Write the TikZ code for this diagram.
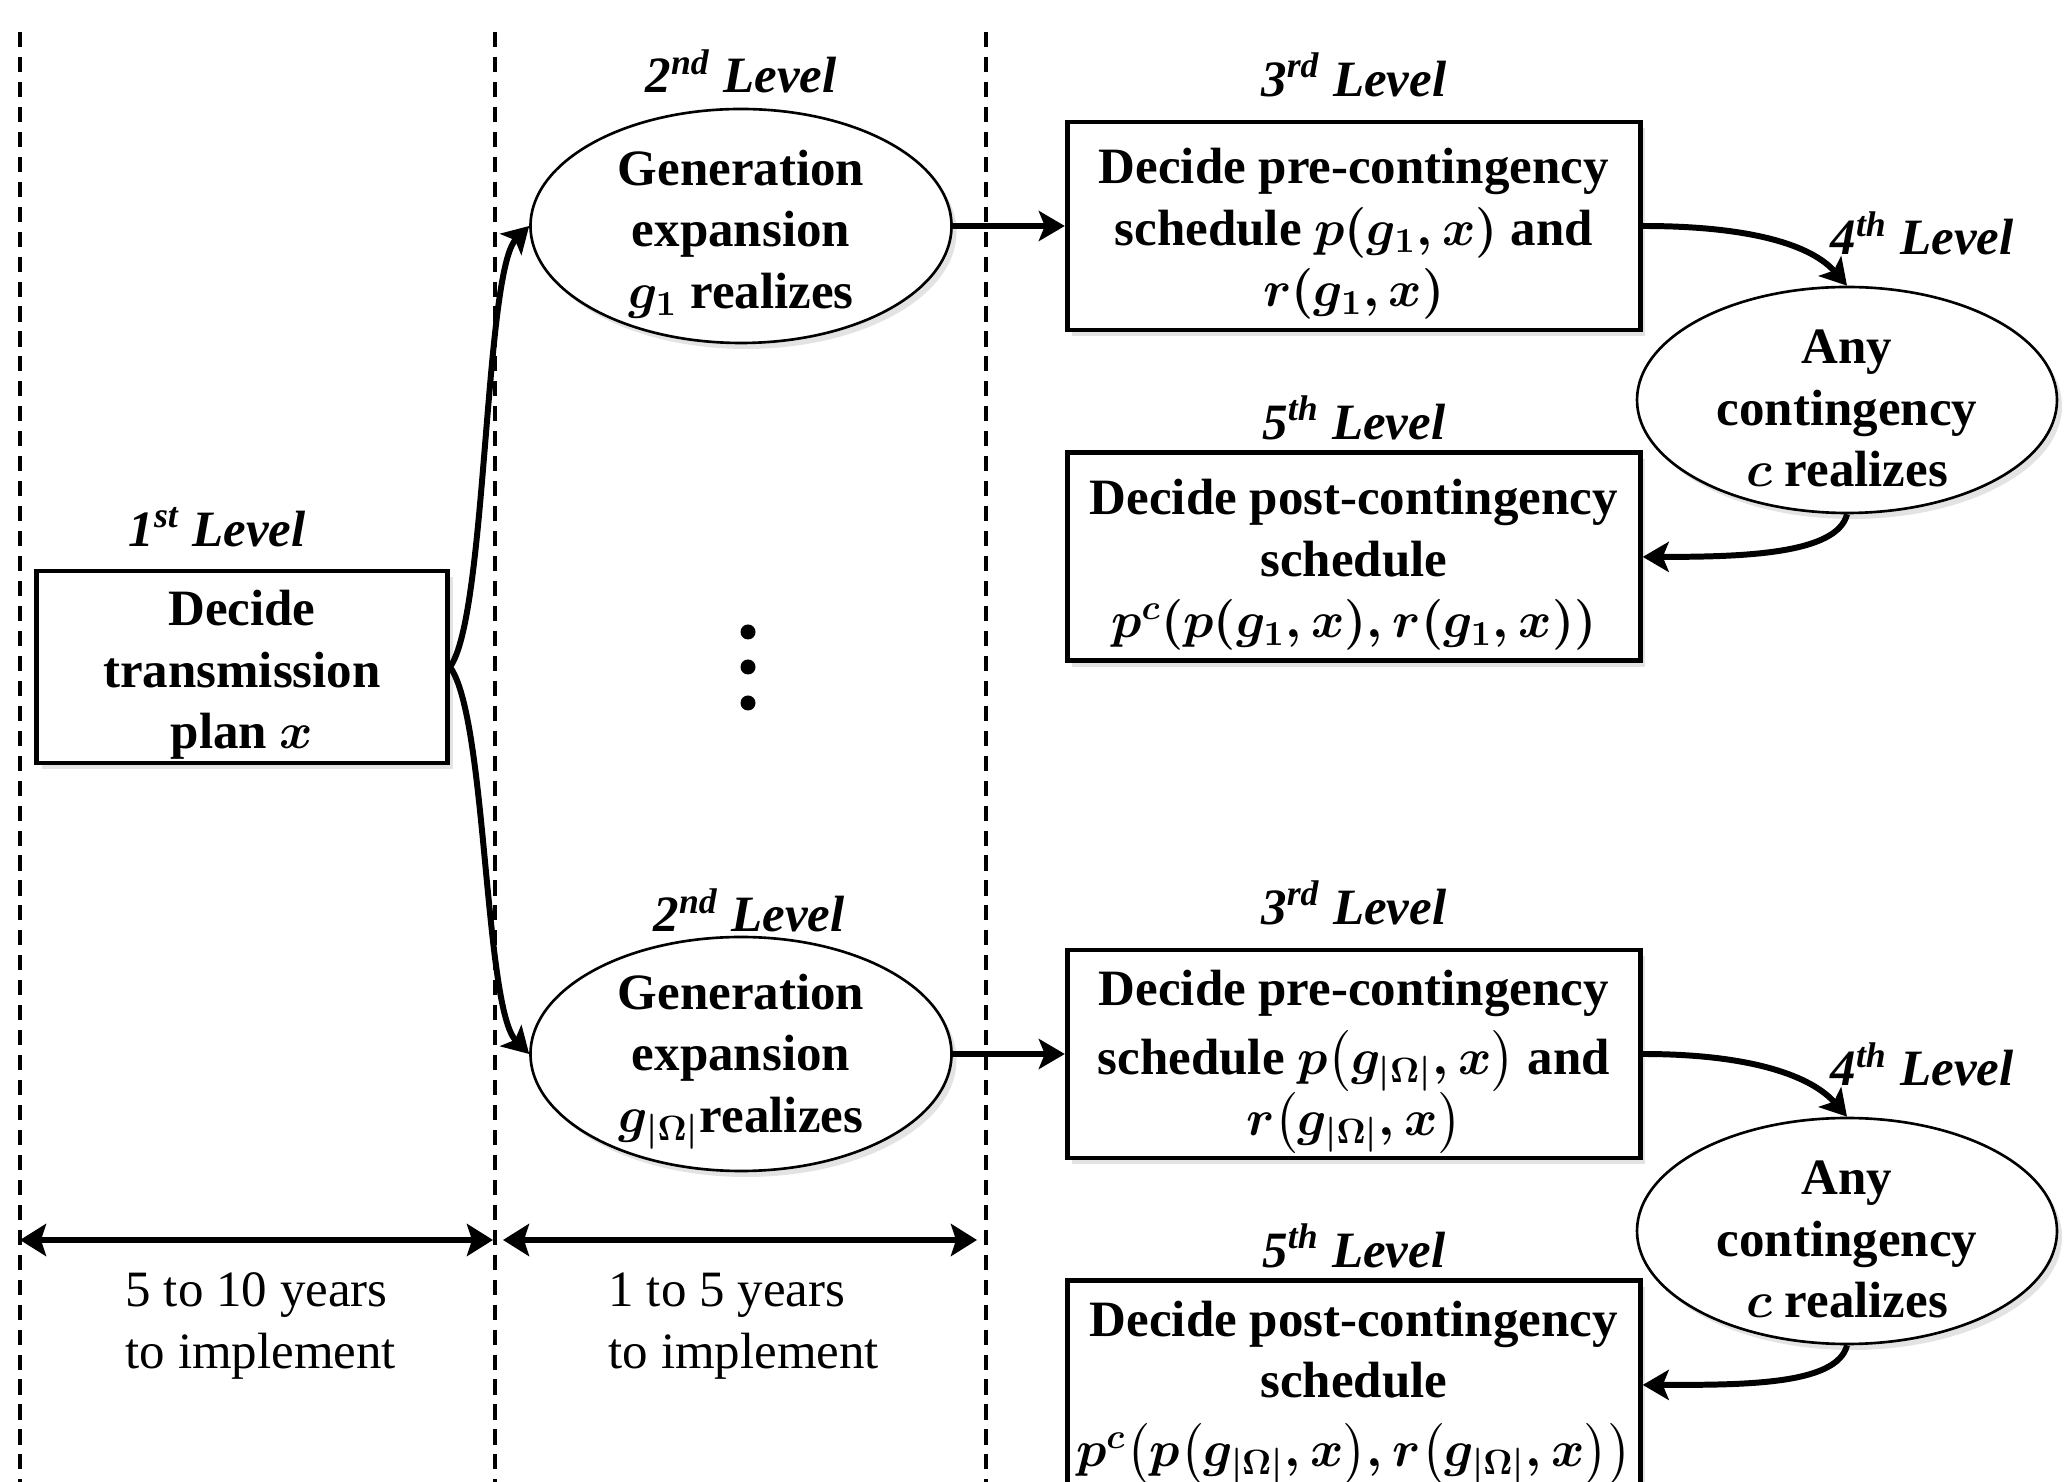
\documentclass[tikz,border=0pt]{standalone}
\usepackage[no-math]{fontspec}
\setmainfont{Liberation Serif}
\usepackage{amsmath,amssymb}
\usepackage{tikz}
\usetikzlibrary{arrows.meta,positioning,shapes.geometric,shadows}
\newcommand{\topgap}{\rule{0pt}{14.5pt}}

\begin{document}
\begin{tikzpicture}[
  font=\fontsize{14.5}{17.5}\selectfont,
  box/.style={draw, line width=1.4pt, align=center, fill=white, inner xsep=2pt, inner ysep=0pt,
    minimum width=5.73cm, minimum height=2.08cm,
    font=\fontsize{14.5}{17.5}\selectfont\bfseries\boldmath,
    drop shadow={opacity=0.22, shadow xshift=0.05cm, shadow yshift=-0.06cm}},
  oval/.style={ellipse, draw, line width=0.75pt, align=center, fill=white, inner xsep=0pt, inner ysep=-4pt,
    minimum width=4.21cm, minimum height=2.34cm,
    font=\fontsize{14.5}{17.5}\selectfont\bfseries\boldmath,
    drop shadow={opacity=0.22, shadow xshift=0.05cm, shadow yshift=-0.06cm}},
  lvl/.style={inner sep=0pt, font=\fontsize{14.5}{17.5}\selectfont\bfseries\itshape},
  arr/.style={-{Stealth[length=2.6mm,width=3mm,inset=0.6mm]}, line width=1.7pt},
  dim/.style={{Stealth[length=2.6mm,width=3.2mm,inset=0.5mm]}-{Stealth[length=2.6mm,width=3.2mm,inset=0.5mm]}, line width=1.7pt},
  sep/.style={line width=1.4pt, dash pattern=on 4.3pt off 2.8pt}
]
  \useasboundingbox (0,0) rectangle (20.64,-14.82);
  % time horizons
  \foreach \x in {0.20,4.95,9.86}
    \draw[sep] (\x,-0.32) -- (\x,-14.82);

  % 1st level
  \node[box, minimum width=4.11cm, minimum height=1.92cm] (plan) at (2.42,-6.67) {\topgap Decide\\transmission\\plan $x$};
  \node[lvl, above=0.21cm of plan, xshift=-0.25cm] (lvA) {1\textsuperscript{st} Level};

  % 2nd level
  \node[oval] (gen1) at (7.41,-2.26) {\topgap Generation\\expansion\\$g_1$ realizes};
  \node[oval] (genN) at (7.41,-10.54) {\topgap Generation\\expansion\\$g_{|\Omega|}$realizes};
  \node[lvl, above=0.14cm of gen1] (lvB1) {2\textsuperscript{nd} Level};
  \node[lvl, above=0.03cm of genN, xshift=0.08cm] (lvBN) {2\textsuperscript{nd} Level};
  \foreach \y in {-6.32,-6.67,-7.03}
    \fill (7.48,\y) circle (0.075);

  % 3rd to 5th level, first scenario
  \node[box, right=1.12cm of gen1] (pre1) {\topgap Decide pre-contingency\\schedule $p(g_1,x)$ and\\$r(g_1,x)$};
  \node[box, below=1.18cm of pre1] (post1) {\topgap Decide post-contingency\\schedule\\$p^c(p(g_1,x),r(g_1,x))$};
  \node[oval, minimum width=4.2cm, minimum height=2.26cm] (any1) at (18.47,-4.00) {\topgap Any\\contingency\\$c$ realizes};
  \node[lvl, above=0.22cm of pre1] (lvC1) {3\textsuperscript{rd} Level};
  \node[lvl, above=0.3cm of any1, xshift=0.75cm] (lvD1) {4\textsuperscript{th} Level};
  \node[lvl, above=0.1cm of post1] (lvE1) {5\textsuperscript{th} Level};

  % 3rd to 5th level, last scenario
  \node[box, right=1.12cm of genN] (preN) {\topgap Decide pre-contingency\\[2pt]schedule $p\bigl(g_{|\Omega|},x\bigr)$ and\\$r\bigl(g_{|\Omega|},x\bigr)$};
  \node[box, below=1.18cm of preN] (postN) {\topgap Decide post-contingency\\schedule\\[2pt]$p^c\bigl(p\bigl(g_{|\Omega|},x\bigr),r\bigl(g_{|\Omega|},x\bigr)\bigr)$};
  \node[oval, minimum width=4.2cm, minimum height=2.26cm] (anyN) at (18.47,-12.31) {\topgap Any\\contingency\\$c$ realizes};
  \node[lvl, above=0.22cm of preN] (lvCN) {3\textsuperscript{rd} Level};
  \node[lvl, above=0.3cm of anyN, xshift=0.75cm] (lvDN) {4\textsuperscript{th} Level};
  \node[lvl, above=0.1cm of postN] (lvEN) {5\textsuperscript{th} Level};

  % connectors
  \draw[arr] (plan.east) .. controls +(0.37,0.5) and +(-0.45,-0.45) .. (gen1.west);
  \draw[arr] (plan.east) .. controls +(0.37,-0.5) and +(-0.45,0.45) .. (genN.west);
  \draw[arr] (gen1) -- (pre1);
  \draw[arr] (genN) -- (preN);
  \draw[arr] (pre1.east) .. controls +(1.1,0) and +(-0.35,0.4) .. (any1.north);
  \draw[arr] (any1.south) .. controls +(-0.1,-0.4) and +(1.0,0) .. (post1.east);
  \draw[arr] (preN.east) .. controls +(1.1,0) and +(-0.35,0.4) .. (anyN.north);
  \draw[arr] (anyN.south) .. controls +(-0.1,-0.4) and +(1.0,0) .. (postN.east);

  % implementation times
  \coordinate (d0) at (0.20,-12.40);
  \coordinate (d1) at (4.93,-12.40);
  \coordinate (d2) at (5.03,-12.40);
  \coordinate (d3) at (9.77,-12.40);
  \draw[dim] (d0) -- (d1);
  \draw[dim] (d2) -- (d3);
  \node[align=left, anchor=west, inner sep=0pt] (tA) at (1.25,-13.26) {5 to 10 years\\to implement};
  \node[align=left, anchor=west, inner sep=0pt] (tB) at (6.08,-13.26) {1 to 5 years\\to implement};
\end{tikzpicture}
\end{document}
